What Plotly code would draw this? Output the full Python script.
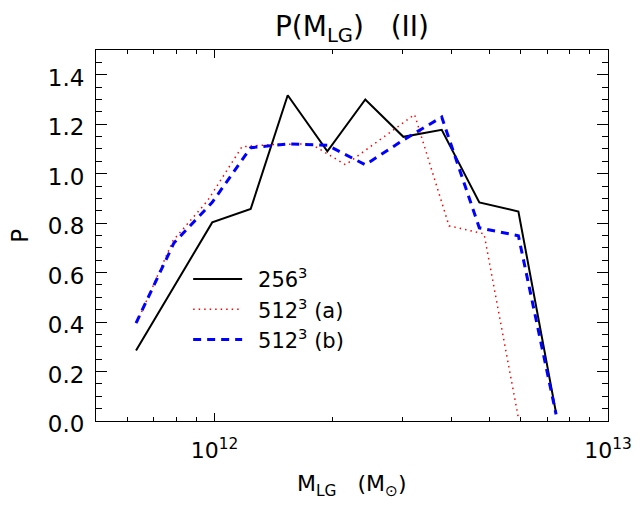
import plotly.graph_objects as go

# P(M_LG) for the three runs
m_256 = [6.32e11, 9.87e11, 1.236e12, 1.535e12, 1.936e12, 2.417e12,
         3.02e12, 3.78e12, 4.71e12, 5.92e12, 7.38e12]
p_256 = [0.285, 0.803, 0.857, 1.317, 1.090, 1.300,
         1.149, 1.177, 0.884, 0.847, 0.032]

m_512a = [6.36e11, 7.85e11, 9.60e11, 1.175e12, 1.438e12, 1.759e12,
          2.153e12, 2.634e12, 3.224e12, 3.945e12, 4.842e12, 5.907e12]
p_512a = [0.400, 0.730, 0.890, 1.109, 1.119, 1.120,
          1.036, 1.138, 1.239, 0.789, 0.757, 0.020]

m_512b = [6.32e11, 7.89e11, 9.87e11, 1.236e12, 1.535e12, 1.936e12,
          2.417e12, 3.02e12, 3.78e12, 4.71e12, 5.92e12, 7.38e12]
p_512b = [0.396, 0.720, 0.884, 1.105, 1.120, 1.115,
          1.036, 1.136, 1.229, 0.781, 0.749, 0.027]

# axis ticks
x_major = [1e12, 1e13]
x_major_text = ['10<sup>12</sup>', '10<sup>13</sup>']
x_minor = [6e11, 7e11, 8e11, 9e11, 2e12, 3e12, 4e12, 5e12, 6e12, 7e12, 8e12, 9e12]

font = 'DejaVu Sans'
sp = '\u00a0'
gap = '\u00a0\u2009'

fig = go.Figure()
fig.add_trace(go.Scatter(x=m_256, y=p_256, mode='lines', name=gap + '256<sup>3</sup>',
                         line=dict(color='black', width=2)))
fig.add_trace(go.Scatter(x=m_512a, y=p_512a, mode='lines', name=gap + '512<sup>3</sup> (a)',
                         line=dict(color='red', width=1.5, dash='1.5px,4px')))
fig.add_trace(go.Scatter(x=m_512b, y=p_512b, mode='lines', name=gap + '512<sup>3</sup> (b)',
                         line=dict(color='blue', width=3, dash='8px,6px')))

# the page body adds an 8px margin, so the figure is a bit smaller than the window
fig.update_layout(
    width=624,
    height=496,
    paper_bgcolor='white',
    plot_bgcolor='white',
    margin=dict(l=88, r=24, t=42, b=83, autoexpand=False),
    font=dict(family=font, size=23, color='black'),
    title=dict(text='P(M<sub>LG</sub>)' + sp * 3 + '(II)', x=0.5, xref='paper',
               xanchor='center', y=1 - 18 / 496, yanchor='middle',
               font=dict(size=28)),
    showlegend=True,
    legend=dict(x=0.18, y=0.437, xanchor='left', yanchor='top',
                bgcolor='rgba(0,0,0,0)', font=dict(size=21), itemwidth=49),
    xaxis=dict(
        type='log',
        range=[11.69897, 13],
        automargin=False,
        showgrid=False, zeroline=False,
        showline=True, linecolor='black', linewidth=1, mirror='ticks',
        ticks='inside', ticklen=8, tickwidth=1, tickcolor='black',
        tickmode='array', tickvals=x_major, ticktext=x_major_text,
        tickfont=dict(size=22), ticklabeloverflow='allow',
        ticklabelstandoff=10,
        minor=dict(tickmode='array', tickvals=x_minor, ticks='inside',
                   ticklen=4, tickwidth=1, tickcolor='black'),
    ),
    yaxis=dict(
        range=[0, 1.5],
        automargin=False,
        showgrid=False, zeroline=False,
        showline=True, linecolor='black', linewidth=1, mirror='ticks',
        ticks='inside', ticklen=11, tickwidth=1, tickcolor='black',
        dtick=0.2, tick0=0, tickformat='.1f',
        ticklabelstandoff=6, ticklabelshift=3,
        minor=dict(dtick=0.05, tick0=0, ticks='inside', ticklen=6,
                   tickwidth=1, tickcolor='black'),
    ),
)

# axis titles
fig.add_annotation(text='M<sub>LG</sub>' + sp * 3 + '(M<sub>\u2299</sub>)',
                   xref='paper', yref='paper', x=0.5, y=-0.175,
                   xanchor='center', yanchor='middle', showarrow=False,
                   font=dict(size=22))
fig.add_annotation(text='P', xref='paper', yref='paper', x=-0.150, y=0.5,
                   xanchor='center', yanchor='middle', textangle=-90,
                   showarrow=False, font=dict(size=23))

fig.write_html('out.html')
